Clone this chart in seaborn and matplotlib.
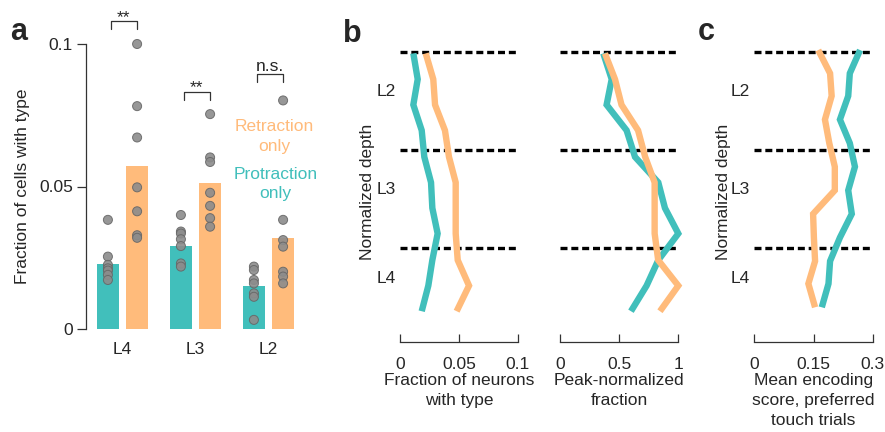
import pandas as pd
import matplotlib.pyplot as plt
import seaborn as sns

sns.set_style("ticks")
plt.rcParams["font.family"] = ["Liberation Sans", "DejaVu Sans"]
plt.rcParams["font.size"] = 12.5

TEAL = "#41bfbb"
ORANGE = "#ffbb7b"
GRAY = "#8c8c8c"
SPINE = "#333333"

# panel a: fraction of cells per layer
layers = ["L4", "L3", "L2"]
types = ["Protraction", "Retraction"]
bar_protraction = [0.0228, 0.0292, 0.0151]
bar_retraction = [0.0573, 0.0513, 0.0319]

l4_protraction = [0.0383, 0.0254, 0.0225, 0.0213, 0.0205, 0.0190, 0.0172]
l4_retraction = [0.1000, 0.0782, 0.0672, 0.0497, 0.0413, 0.0329, 0.0320]
l3_protraction = [0.0400, 0.0342, 0.0335, 0.0315, 0.0291, 0.0230, 0.0219]
l3_retraction = [0.0754, 0.0602, 0.0586, 0.0478, 0.0432, 0.0389, 0.0359]
l2_protraction = [0.0219, 0.0207, 0.0172, 0.0160, 0.0125, 0.0113, 0.0032]
l2_retraction = [0.0802, 0.0383, 0.0312, 0.0289, 0.0201, 0.0184, 0.0160]

sig_labels = ["**", "**", "n.s."]
sig_heights = [0.108, 0.0833, 0.0894]

# panel b: depth profiles (layer boundaries at 0, 1, 2)
depth_b = [0.017, 0.28, 0.54, 0.80, 1.07, 1.33, 1.59, 1.85, 2.12, 2.38, 2.64]
frac_protraction = [0.0113, 0.0150, 0.0113, 0.0184, 0.0206, 0.0263, 0.0274, 0.0319, 0.0274, 0.0240, 0.0184]
frac_retraction = [0.0218, 0.0282, 0.0297, 0.0381, 0.0415, 0.0472, 0.0472, 0.0472, 0.0489, 0.0585, 0.0480]
peak_protraction = [0.366, 0.437, 0.394, 0.563, 0.634, 0.831, 0.887, 1.0, 0.831, 0.732, 0.600]
peak_retraction = [0.38, 0.465, 0.52, 0.66, 0.72, 0.80, 0.80, 0.80, 0.83, 1.0, 0.845]

# panel c: encoding score vs depth
depth_c = [-0.017, 0.22, 0.45, 0.69, 0.93, 1.17, 1.41, 1.65, 1.89, 2.13, 2.36, 2.60]
score_protraction = [0.268, 0.242, 0.238, 0.217, 0.242, 0.255, 0.238, 0.247, 0.217, 0.192, 0.188, 0.171]
score_retraction = [0.162, 0.192, 0.196, 0.179, 0.190, 0.204, 0.204, 0.149, 0.151, 0.154, 0.137, 0.154]

layer_label_pos = [0.39, 1.39, 2.29]

fig = plt.figure(figsize=(8.85, 4.32), dpi=100)

# ---- a ----
bars = pd.DataFrame({
    "layer": layers * 2,
    "type": ["Protraction"] * 3 + ["Retraction"] * 3,
    "frac": bar_protraction + bar_retraction,
})
pts = []
for lay, pro, ret in [("L4", l4_protraction, l4_retraction),
                      ("L3", l3_protraction, l3_retraction),
                      ("L2", l2_protraction, l2_retraction)]:
    pts += [(lay, "Protraction", v) for v in pro]
    pts += [(lay, "Retraction", v) for v in ret]
pts = pd.DataFrame(pts, columns=["layer", "type", "frac"])

ax = fig.add_axes([86 / 885, 103 / 432, 219 / 885, 285 / 432])
sns.barplot(data=bars, x="layer", y="frac", hue="type", order=layers, hue_order=types,
            palette=[TEAL, ORANGE], saturation=1, gap=0.25, errorbar=None, legend=False,
            linewidth=0, ax=ax)
sns.stripplot(data=pts, x="layer", y="frac", hue="type", order=layers, hue_order=types,
              palette=[GRAY, GRAY], dodge=True, jitter=False, size=6.5, alpha=0.9,
              edgecolor="#666666", linewidth=0.7, legend=False, ax=ax, zorder=3)
for c in ax.collections:
    c.set_clip_on(False)
ax.set_xlim(-0.5, 2.5)
ax.set_ylim(0, 0.1)
ax.set_yticks([0, 0.05, 0.1], ["0", "0.05", "0.1"])
ax.set_xlabel("")
ax.set_ylabel("Fraction of cells with type")
ax.yaxis.set_label_coords(-0.255, 0.5)
sns.despine(ax=ax, bottom=True)
ax.spines["left"].set_color(SPINE)
ax.spines["left"].set_linewidth(0.9)
ax.tick_params(axis="y", length=6.5, width=0.9, color=SPINE, pad=3)
ax.tick_params(axis="x", length=0, pad=9)

for i, (lab, h) in enumerate(zip(sig_labels, sig_heights)):
    ax.plot([i - 0.16, i - 0.16, i + 0.2, i + 0.2], [h - 0.0029, h, h, h - 0.0029],
            color=SPINE, lw=0.9, clip_on=False)
    off = -0.0003 if lab == "**" else 0.0012
    ax.text(i + 0.02, h + off, lab, ha="center", va="baseline", fontsize=12.5)

ax.text(2.08, 0.0675, "Retraction\nonly", color=ORANGE, ha="center", va="center",
        fontsize=12.5, linespacing=1.4)
ax.text(2.1, 0.0509, "Protraction\nonly", color=TEAL, ha="center", va="center",
        fontsize=12.5, linespacing=1.4)


def depth_panel(rect, depth, teal_vals, orange_vals, xmax, ticks, ticklabels, xlabel, label_x):
    a = fig.add_axes(rect)
    for b in (0, 1, 2):
        a.axhline(b, color="black", lw=2.4, ls=(0, (2.1, 1.15)), zorder=1)
    for vals, col in ((teal_vals, TEAL), (orange_vals, ORANGE)):
        sns.lineplot(x=vals, y=depth, orient="y", sort=False, estimator=None, color=col,
                     linewidth=4.6, solid_capstyle="butt", solid_joinstyle="miter",
                     ax=a, zorder=2, clip_on=False)
    a.set_xlim(0, xmax)
    a.set_ylim(2.95, -0.1)
    a.set_yticks(layer_label_pos, ["L2", "L3", "L4"])
    a.set_xticks(ticks, ticklabels)
    a.tick_params(axis="y", length=0, pad=3)
    a.tick_params(axis="x", direction="in", length=5.5, width=0.9, color=SPINE, pad=11)
    sns.despine(ax=a, left=True)
    a.spines["bottom"].set_color(SPINE)
    a.spines["bottom"].set_linewidth(0.9)
    a.set_xlabel(xlabel, labelpad=1, linespacing=1.4)
    if label_x is not None:
        a.set_ylabel("Normalized depth")
        a.yaxis.set_label_coords(label_x, 0.5)
    else:
        a.set_ylabel("")
    return a


bottom = (432 - 341.7) / 432
height = 299.8 / 432
depth_panel([400 / 885, bottom, 118 / 885, height], depth_b, frac_protraction, frac_retraction,
            0.1, [0, 0.05, 0.1], ["0", "0.05", "0.1"], "Fraction of neurons\nwith type", -0.21)
ax2 = depth_panel([560 / 885, bottom, 118.3 / 885, height], depth_b, peak_protraction,
                  peak_retraction, 1.0, [0, 0.5, 1], ["0", "0.5", "1"],
                  "Peak-normalized\nfraction", None)
ax2.set_yticks([])
depth_panel([754.3 / 885, bottom, 118.4 / 885, height], depth_c, score_protraction,
            score_retraction, 0.3, [0, 0.15, 0.3], ["0", "0.15", "0.3"],
            "Mean encoding\nscore, preferred\ntouch trials", -0.197)

for lab, x, y in (("a", 10, 40), ("b", 343, 42), ("c", 698, 40)):
    fig.text(x / 885, 1 - y / 432, lab, fontsize=22, fontweight="bold", va="baseline")

fig.savefig("out.png", dpi=100)
